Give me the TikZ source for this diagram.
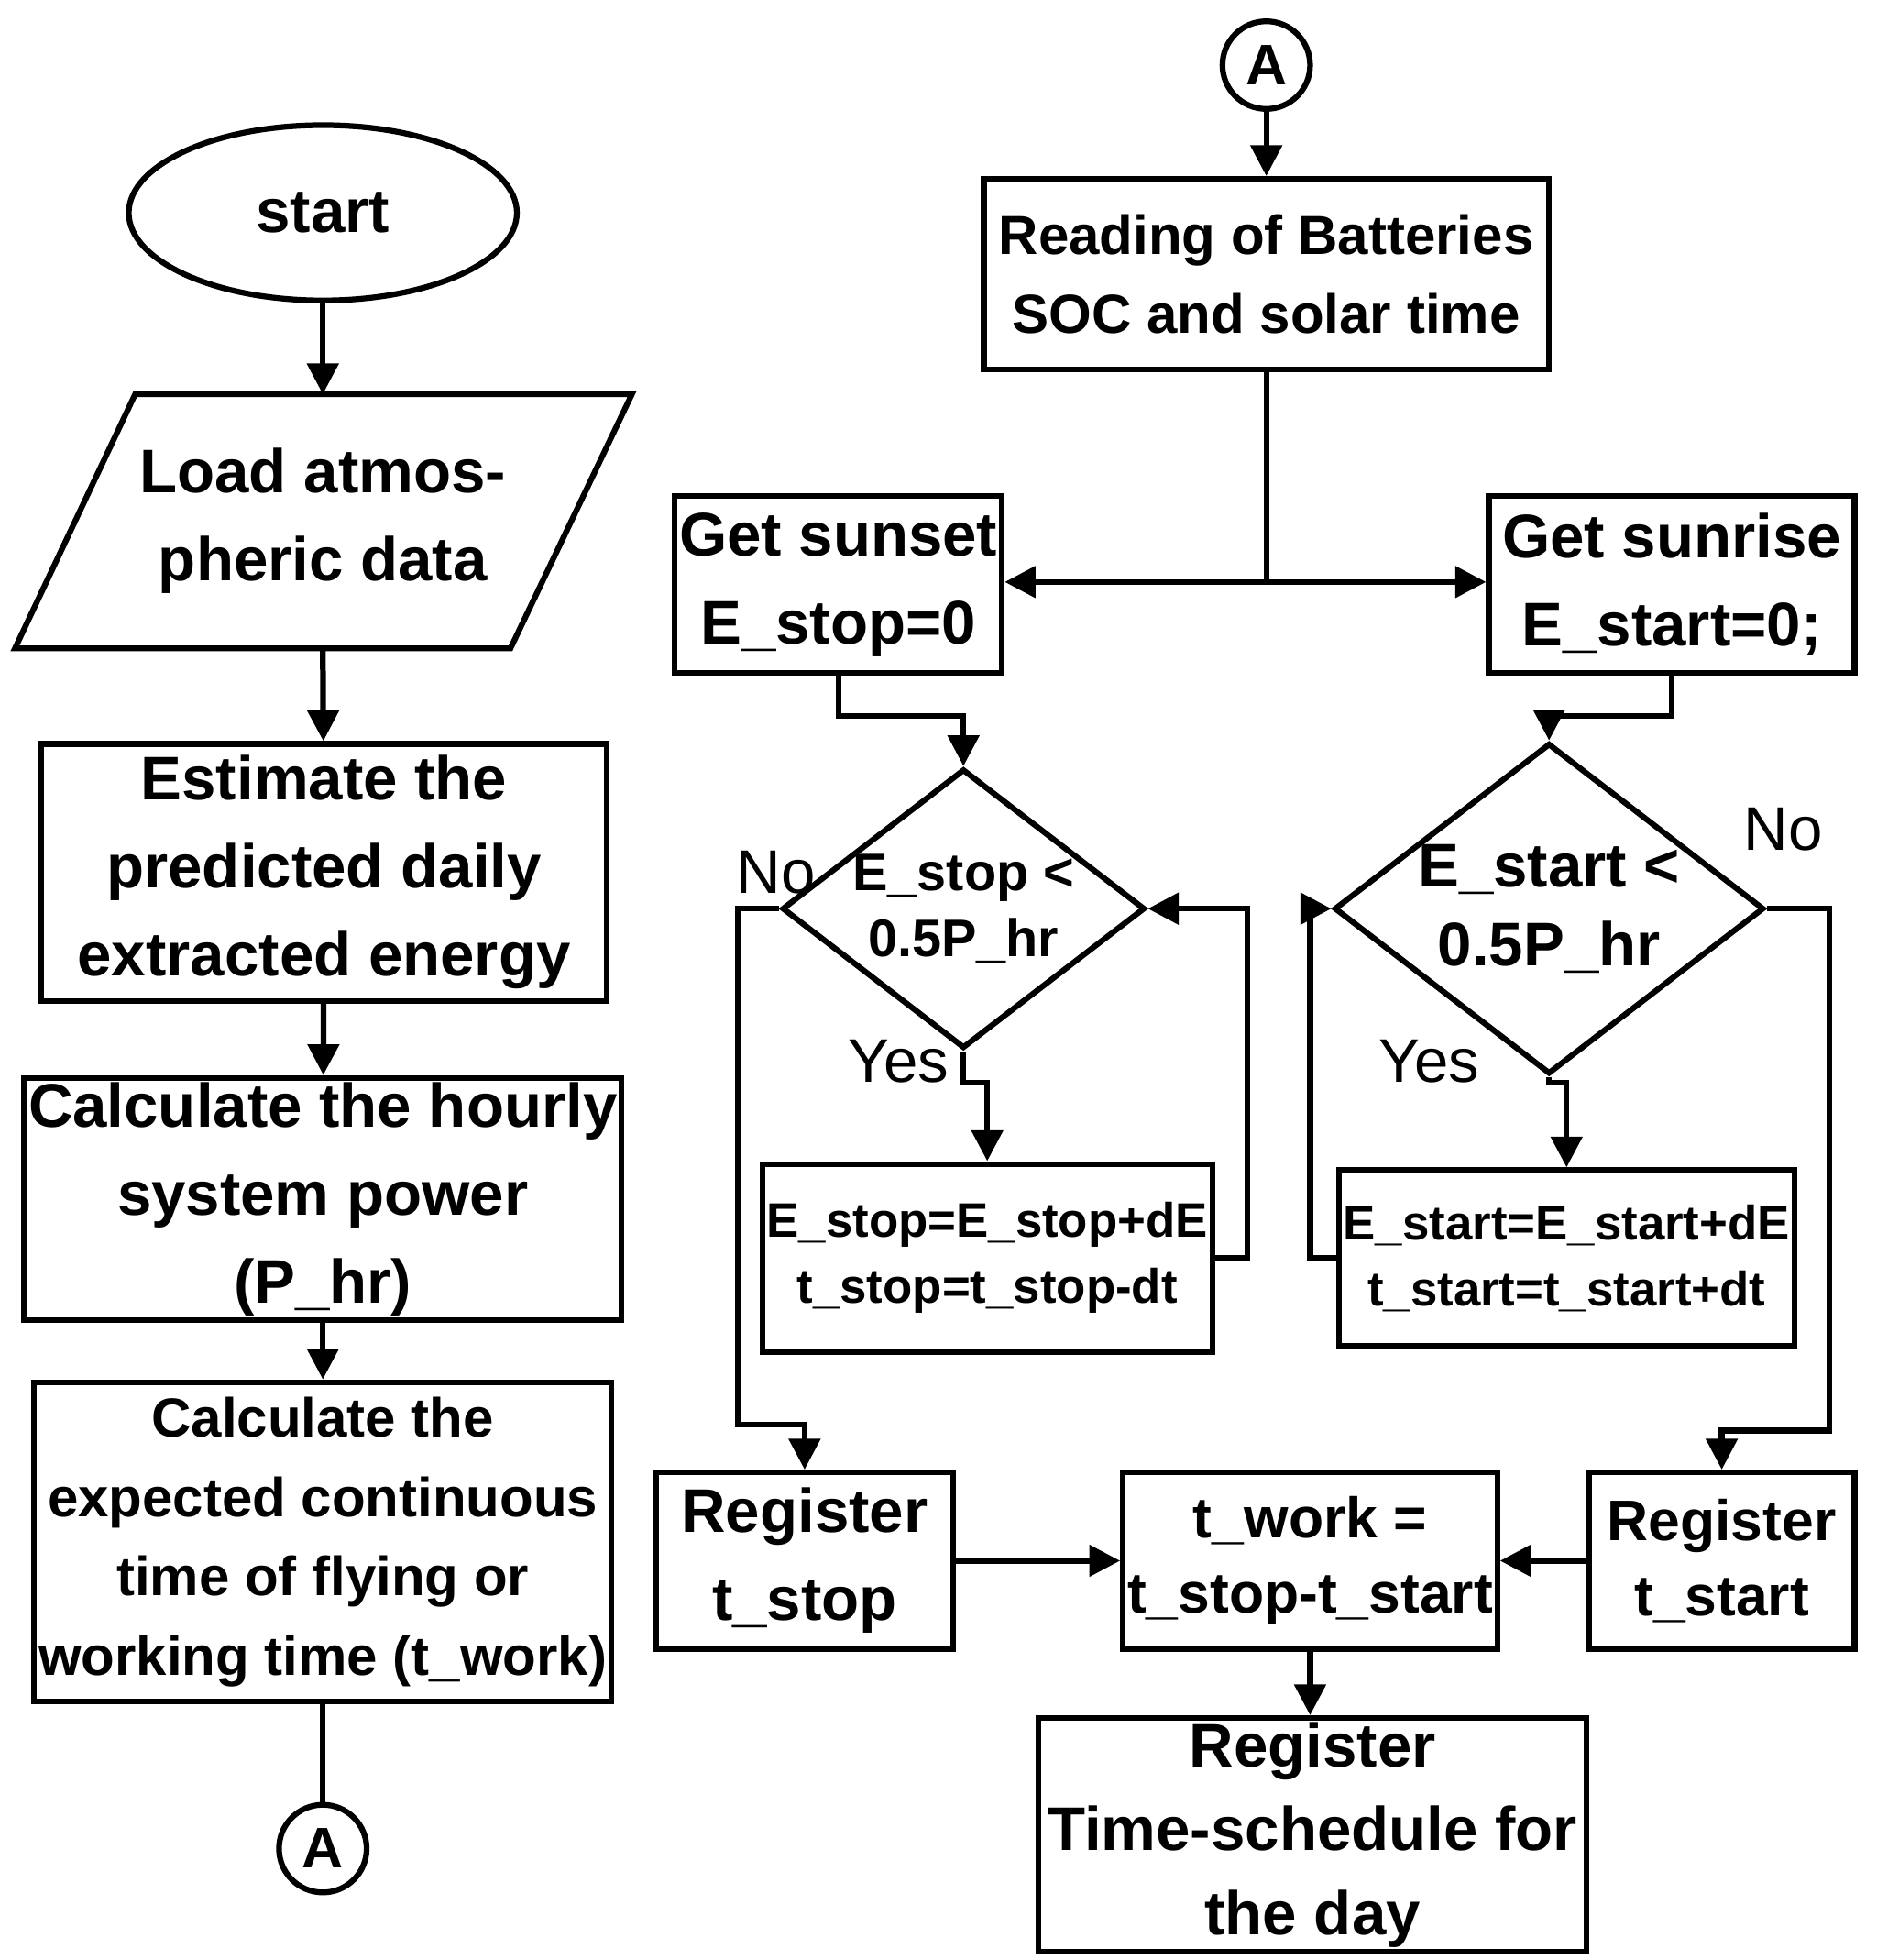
\documentclass[tikz,border=0pt]{standalone}
\usepackage{fontspec}
\setmainfont{Liberation Sans}
\usetikzlibrary{shapes.geometric,arrows.meta,positioning,calc}

\begin{document}
\begin{tikzpicture}[x=0.01cm, y=-0.01cm, line width=1.3pt,
  box/.style={draw, rectangle, align=center, font=\bfseries\fontsize{13}{16}\selectfont, inner sep=1pt},
  dec/.style={draw, diamond, aspect=1.3, align=center, font=\bfseries\fontsize{12}{15}\selectfont, inner sep=0pt},
  conn/.style={draw, circle, minimum size=0.7cm, font=\bfseries\fontsize{13}{15}\selectfont, inner sep=0pt},
  lbl/.style={font=\fontsize{14}{16}\selectfont},
  arr/.style={-{Triangle[length=7pt,width=7pt]}}]
  \useasboundingbox (0,0) rectangle (1500,1566);
  % left column
  \node[draw, ellipse, minimum width=3.1cm, minimum height=1.4cm, font=\bfseries\fontsize{14}{16}\selectfont] (start) at (258,170) {start};
  \draw (108,315) -- (505,315) -- (408,518) -- (12,518) -- cycle;
  \coordinate (loadtop) at (258,315);
  \coordinate (loadbot) at (258,518);
  \node[align=center, font=\bfseries\fontsize{14}{20}\selectfont] (load) at (258,416) {Load atmos-\\pheric data};
  \node[box, minimum width=4.52cm, minimum height=2.05cm, font=\bfseries\fontsize{14}{20}\selectfont] (est) at (259,697) {Estimate the\\predicted daily\\extracted energy};
  \node[box, minimum width=4.47cm, minimum height=1.87cm, font=\bfseries\fontsize{14}{20}\selectfont] (hourly) at (258,958) {Calculate the hourly\\system power\\(P\_hr)};
  \node[box, minimum width=4.37cm, minimum height=2.55cm, font=\bfseries\fontsize{12.5}{18}\selectfont] (work) at (258,1232) {Calculate the\\expected continuous\\time of flying or\\working time (t\_work)};
  \node[conn] (A1) at (258,1477) {A};
  \draw[arr] (start) -- (loadtop);
  \draw[arr] (loadbot) -- (est);
  \draw[arr] (est) -- (hourly);
  \draw[arr] (hourly) -- (work);
  \draw (work) -- (A1);
  % right part
  \node[conn] (A2) at (1012,52) {A};
  \node[box, minimum width=4.51cm, minimum height=1.52cm, font=\bfseries\fontsize{12.5}{18}\selectfont] (read) at (1012,219) {Reading of Batteries\\SOC and solar time};
  \node[box, minimum width=2.6cm, minimum height=1.41cm, font=\bfseries\fontsize{14}{20}\selectfont] (sunset) at (670,467) {Get sunset\\E\_stop=0};
  \node[box, minimum width=2.92cm, minimum height=1.41cm, font=\bfseries\fontsize{14}{20}\selectfont] (sunrise) at (1336,467) {Get sunrise\\E\_start=0;};
  \coordinate (split) at (1012,465);
  \draw[arr] (A2) -- (read);
  \draw (read) -- (split);
  \draw[arr] (split) -- (sunset.east |- split);
  \draw[arr] (split) -- (sunrise.west |- split);
  \node[dec, minimum width=2.69cm, minimum height=2.08cm] (dstop) at (770,726) {E\_stop <\\0.5P\_hr};
  \node[dec, minimum width=3.05cm, minimum height=2.08cm, font=\bfseries\fontsize{14}{18}\selectfont] (dstart) at (1238,726) {E\_start <\\0.5P\_hr};
  \draw[arr] (sunset.south) |- (720,572) -| (dstop.north);
  \draw[arr] (sunrise.south) |- (1280,572) -| (dstart.north);
  \node[box, minimum width=3.48cm, minimum height=1.5cm, font=\bfseries\fontsize{11}{15}\selectfont] (ustop) at (789,1005) {E\_stop=E\_stop+dE\\t\_stop=t\_stop-dt};
  \node[box, minimum width=3.49cm, minimum height=1.4cm, font=\bfseries\fontsize{11}{15}\selectfont] (ustart) at (1252,1005) {E\_start=E\_start+dE\\t\_start=t\_start+dt};
  \draw[arr] (dstop.south) -- (770,865) -| (ustop.north);
  \draw[arr] (dstart.south) -- (1238,865) -| (ustart.north);
  \draw[arr] (ustop.east) -- (997,1005) |- (dstop.east);
  \draw[arr] (ustart.west) -- (1047,1005) |- (dstart.west);
  \node[box, minimum width=2.37cm, minimum height=1.41cm, font=\bfseries\fontsize{14}{20}\selectfont] (rstop) at (643,1247) {Register\\t\_stop};
  \node[box, minimum width=2.69cm, minimum height=1.41cm, font=\bfseries\fontsize{13}{17}\selectfont] (twork) at (1047,1247) {t\_work =\\t\_stop-t\_start};
  \node[box, minimum width=2.12cm, minimum height=1.41cm, font=\bfseries\fontsize{13}{17}\selectfont] (rstart) at (1376,1247) {Register\\t\_start};
  \node[box, minimum width=4.38cm, minimum height=1.77cm, font=\bfseries\fontsize{14}{19}\selectfont] (sched) at (1049,1466) {Register\\Time-schedule for\\the day};
  \draw[arr] (dstop.west) -- (590,726) |- (643,1138) -- (rstop.north);
  \draw[arr] (dstart.east) -- (1462,726) |- (1376,1143) -- (rstart.north);
  \draw[arr] (rstop) -- (twork);
  \draw[arr] (rstart) -- (twork);
  \draw[arr] (twork) -- (twork |- sched.north);
  % labels
  \node[lbl] (nostop) at (620,697) {No};
  \node[lbl] (yesstop) at (718,848) {Yes};
  \node[lbl] (nostart) at (1425,663) {No};
  \node[lbl] (yesstart) at (1142,848) {Yes};
\end{tikzpicture}
\end{document}
